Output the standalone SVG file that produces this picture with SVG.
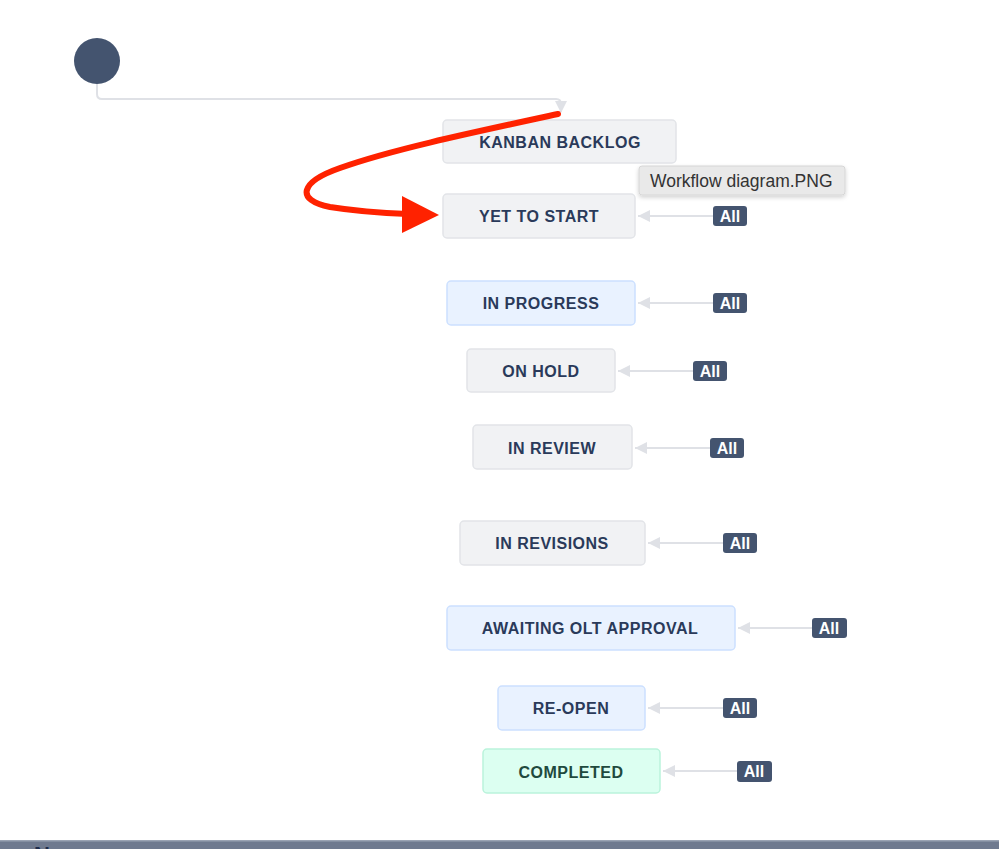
<svg xmlns="http://www.w3.org/2000/svg" width="999" height="849" viewBox="0 0 999 849">
<defs>
<style>
.node rect{stroke-width:1.5}
.grey rect{fill:#f1f2f4;stroke:#e2e4e8}
.blue rect{fill:#e9f2ff;stroke:#cce0ff}
.green rect{fill:#dcfff1;stroke:#baf3db}
.node text{font-family:"Liberation Sans",Arial,sans-serif;font-weight:bold;font-size:16px;letter-spacing:0.5px;fill:#2a3a5a;text-anchor:middle;dominant-baseline:central}
.green text{fill:#1f4a3e}
.badge rect{fill:#44546f}
.badge text{font-family:"Liberation Sans",Arial,sans-serif;font-weight:bold;font-size:16px;fill:#ffffff;text-anchor:middle;dominant-baseline:central}
.conn{fill:none;stroke:#dfe1e6;stroke-width:2}
</style>
<marker id="ah" markerWidth="12" markerHeight="12" refX="12" refY="6" orient="auto" markerUnits="userSpaceOnUse">
<path d="M0,0 L12,6 L0,12 Z" fill="#dfe1e6"/>
</marker>
<marker id="ahd" markerWidth="12" markerHeight="12" refX="11" refY="6" orient="auto" markerUnits="userSpaceOnUse">
<path d="M0,0 L12,6 L0,12 Z" fill="#dfe1e6"/>
</marker>
<filter id="sh" x="-10%" y="-30%" width="120%" height="170%">
<feDropShadow dx="0" dy="2" stdDeviation="2" flood-color="#000" flood-opacity="0.18"/>
</filter>
</defs>
<rect width="999" height="849" fill="#ffffff"/>

<g id="start">
<circle cx="97" cy="61" r="23" fill="#44546f"/>
</g>

<g id="connectors">
<path class="conn" d="M97,84 L97,94 Q97,99 102,99 L556,99 Q561,99 561,104 L561,112" marker-end="url(#ahd)"/>
<path class="conn" d="M713,216 L638,216" marker-end="url(#ah)"/>
<path class="conn" d="M713,303 L638,303" marker-end="url(#ah)"/>
<path class="conn" d="M693,371 L618,371" marker-end="url(#ah)"/>
<path class="conn" d="M710,448 L635,448" marker-end="url(#ah)"/>
<path class="conn" d="M723,543 L648,543" marker-end="url(#ah)"/>
<path class="conn" d="M812,628 L738,628" marker-end="url(#ah)"/>
<path class="conn" d="M723,708 L648,708" marker-end="url(#ah)"/>
<path class="conn" d="M737,771 L663,771" marker-end="url(#ah)"/>
</g>

<g id="node-kanban-backlog" class="node grey">
<rect x="443" y="120" width="233" height="43" rx="4"/>
<text x="560" y="142">KANBAN BACKLOG</text>
</g>
<g id="node-yet-to-start" class="node grey">
<rect x="443" y="194" width="192" height="44" rx="4"/>
<text x="539" y="216">YET TO START</text>
</g>
<g id="node-in-progress" class="node blue">
<rect x="447" y="281" width="188" height="44" rx="4"/>
<text x="541" y="303">IN PROGRESS</text>
</g>
<g id="node-on-hold" class="node grey">
<rect x="467" y="349" width="148" height="43" rx="4"/>
<text x="541" y="371">ON HOLD</text>
</g>
<g id="node-in-review" class="node grey">
<rect x="473" y="425" width="159" height="44" rx="4"/>
<text x="552" y="448">IN REVIEW</text>
</g>
<g id="node-in-revisions" class="node grey">
<rect x="460" y="521" width="185" height="44" rx="4"/>
<text x="552" y="543">IN REVISIONS</text>
</g>
<g id="node-awaiting-olt-approval" class="node blue">
<rect x="447" y="606" width="288" height="44" rx="4"/>
<text x="590" y="628">AWAITING OLT APPROVAL</text>
</g>
<g id="node-re-open" class="node blue">
<rect x="498" y="686" width="147" height="44" rx="4"/>
<text x="571" y="708">RE-OPEN</text>
</g>
<g id="node-completed" class="node green">
<rect x="483" y="749" width="177" height="44" rx="4"/>
<text x="571" y="772">COMPLETED</text>
</g>

<g id="badge-yet" class="badge"><rect x="713" y="206" width="34" height="20" rx="3"/><text x="730" y="216">All</text></g>
<g id="badge-progress" class="badge"><rect x="713" y="293" width="34" height="20" rx="3"/><text x="730" y="303">All</text></g>
<g id="badge-hold" class="badge"><rect x="693" y="361" width="34" height="20" rx="3"/><text x="710" y="371">All</text></g>
<g id="badge-review" class="badge"><rect x="710" y="438" width="34" height="20" rx="3"/><text x="727" y="448">All</text></g>
<g id="badge-revisions" class="badge"><rect x="723" y="533" width="34" height="20" rx="3"/><text x="740" y="543">All</text></g>
<g id="badge-awaiting" class="badge"><rect x="812" y="618" width="35" height="20" rx="3"/><text x="829" y="628">All</text></g>
<g id="badge-reopen" class="badge"><rect x="723" y="698" width="34" height="20" rx="3"/><text x="740" y="708">All</text></g>
<g id="badge-completed" class="badge"><rect x="737" y="761" width="35" height="21" rx="3"/><text x="754" y="771.5">All</text></g>

<g id="tooltip">
<rect x="639" y="166" width="206" height="29" rx="3" fill="#e9e9e9" stroke="#d6d6d6" filter="url(#sh)"/>
<text x="650" y="187" font-family="Liberation Sans,Arial,sans-serif" font-size="17.5" fill="#333333">Workflow diagram.PNG</text>
</g>

<g id="red-arrow">
<path d="M558,114 C470,133 390,150 340,168 C300,182 295,200 330,207 C355,211 380,213 408,214" fill="none" stroke="#ff2200" stroke-width="6" stroke-linecap="round"/>
<polygon points="402,196 439,215 402,233" fill="#ff2200"/>
</g>

<g id="bottom-bar">
<rect x="0" y="840" width="999" height="9" fill="#6f7a8f"/>
<rect x="0" y="840" width="999" height="1.5" fill="#9aa3b3"/>
<text x="34" y="862" font-family="Liberation Sans,Arial,sans-serif" font-size="22" font-weight="bold" fill="#1d2b4a">No</text>
</g>
</svg>
